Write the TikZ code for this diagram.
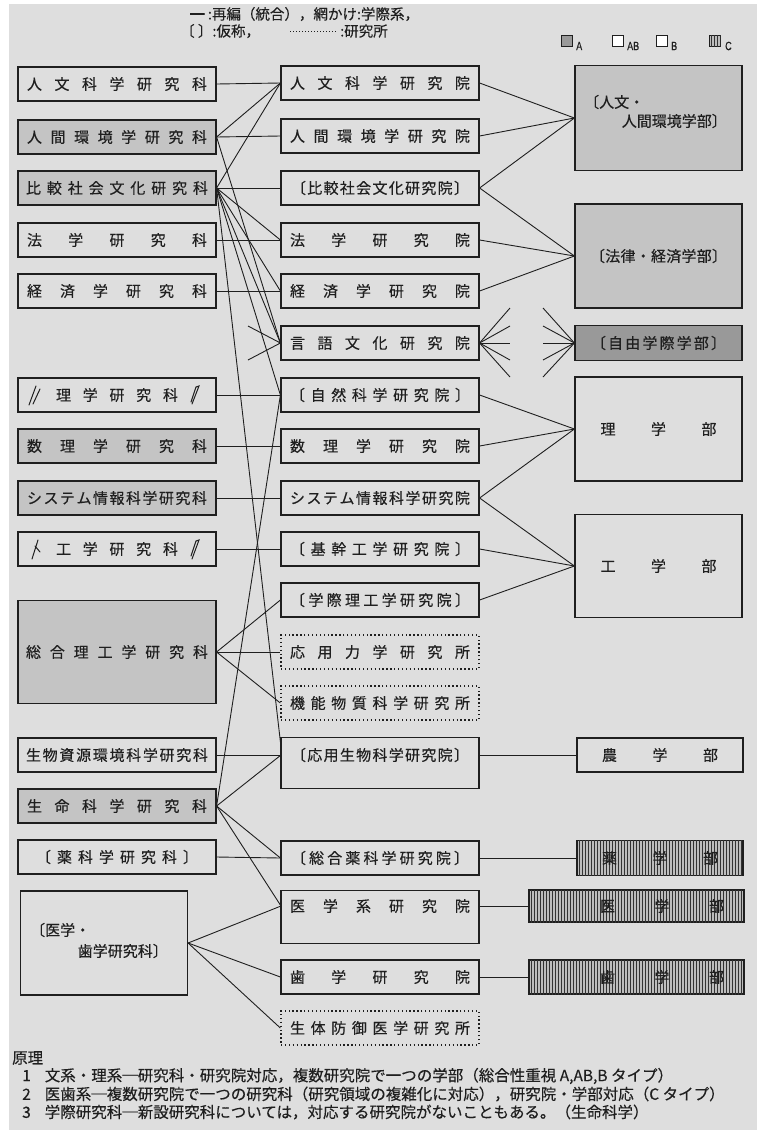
\documentclass[tikz,border=0pt]{standalone}
\usepackage{fontspec}
\setmainfont{Noto Sans CJK JP}[FakeBold=0.35]
\newfontfamily\latf{Liberation Sans}[FakeBold=0.3]
\usetikzlibrary{patterns}
\definecolor{bg}{gray}{0.87}
\definecolor{shd}{gray}{0.77}
\definecolor{drk}{gray}{0.60}
\definecolor{ink}{gray}{0.12}
\ExplSyntaxOn
\NewDocumentCommand\spr{mm}{\makebox[#1][s]{\bool_set_false:N\l_tmpa_bool\tl_map_inline:nn{#2}{\bool_if:NT\l_tmpa_bool{\hfill}##1\bool_set_true:N\l_tmpa_bool}}}
\ExplSyntaxOff
\begin{document}
\begin{tikzpicture}[x=1pt,y=-1pt,
 bx/.style={draw=ink,line width=1.2pt,inner sep=0pt,text=ink,font=\fontsize{15}{15}\selectfont,minimum width=198pt,minimum height=34pt},
 sh/.style={fill=shd},
 dbx/.style={bx,line width=1.3pt,dash pattern=on 1.3pt off 2.6pt},
 hatch/.style={fill=gray!52,postaction={pattern=vertical lines,pattern color=black!80}},
 cn/.style={draw=ink,line width=0.9pt},
 txt/.style={inner sep=0pt,text=ink,font=\fontsize{15}{15}\selectfont},
 lg/.style={inner sep=0pt,text=ink,font=\fontsize{14.5}{14.5}\selectfont},
 bt/.style={inner sep=0pt,text=ink,font=\fontsize{15.5}{15.5}\selectfont},
 sw/.style={draw=ink,line width=0.8pt,minimum width=11pt,minimum height=11pt,inner sep=0pt},
 swl/.style={inner sep=0pt,text=ink,font=\latf\fontsize{12}{12}\selectfont},
 pen/.style={draw=ink,line width=1pt,line cap=round},
]
\useasboundingbox (0,0) rectangle (771,1133);
\fill[white] (0,0) rectangle (771,1133);
\fill[bg] (9,4) rectangle (757,1130);

% legend
\node[lg,anchor=west] (lg1) at (190,14) {━ :再編（統合），網かけ:学際系，};
\node[lg,anchor=west] (lg2) at (180,31) {〔\ 〕:仮称，};
\coordinate (dl1) at (290,31);
\coordinate (dl2) at (336,31);
\draw[ink,line width=1pt,dash pattern=on 1pt off 2pt] (dl1) -- (dl2);
\node[lg,anchor=west] (lg3) at (340,31) {:研究所};
\node[sw,fill=drk] (swA) at (567,41) {};
\node[swl,anchor=west] (swAt) at (576,46) {\scalebox{0.75}[1]{A}};
\node[sw,fill=white] (swAB) at (618,41) {};
\node[swl,anchor=west] (swABt) at (627,46) {\scalebox{0.75}[1]{AB}};
\node[sw,fill=white] (swB) at (662,41) {};
\node[swl,anchor=west] (swBt) at (671,46) {\scalebox{0.75}[1]{B}};
\node[sw,hatch] (swC) at (715,41) {};
\node[swl,anchor=west] (swCt) at (725,46) {\scalebox{0.75}[1]{C}};

% left column
\node[bx] (l1) at (117,84) {\spr{180pt}{人文科学研究科}};
\node[bx,sh] (l2) at (117,137) {\spr{180pt}{人間環境学研究科}};
\node[bx,sh] (l3) at (117,188) {\spr{182pt}{比較社会文化研究科}};
\node[bx] (l4) at (117,240) {\spr{180pt}{法学研究科}};
\node[bx] (l5) at (117,291) {\spr{180pt}{経済学研究科}};
\node[bx] (l6) at (117,395) {\spr{122pt}{理学研究科}};
\node[bx,sh] (l7) at (117,446) {\spr{180pt}{数理学研究科}};
\node[bx,sh] (l8) at (117,498) {\spr{180pt}{システム情報科学研究科}};
\node[bx] (l9) at (117,549) {\spr{122pt}{工学研究科}};
\node[bx,sh,minimum height=103pt] (l10) at (117,652) {\spr{182pt}{総合理工学研究科}};
\node[bx] (l11) at (117,755) {\spr{182pt}{生物資源環境科学研究科}};
\node[bx,sh] (l12) at (117,806) {\spr{180pt}{生命科学研究科}};
\node[bx] (l13) at (117,857) {\spr{162pt}{〔薬科学研究科〕}};
\node[bx,minimum width=167pt,minimum height=104pt] (l14) at (104,943) {};
\node[txt,anchor=west] (l14a) at (30,930) {〔医学・};
\node[txt,anchor=east] (l14b) at (168,951) {歯学研究科〕};

% pen marks
\draw[pen] (29,405) -- (36,386);
\draw[pen] (33,404) -- (40,389);
\draw[pen] (192,404) -- (199,386) -- (196,387) -- (191,402);
\draw[pen] (32,559) -- (38,540);
\draw[pen] (35,546) -- (40,552);
\draw[pen] (192,559) -- (199,540) -- (196,541) -- (191,556);

% middle column
\node[bx] (m1) at (380,83) {\spr{180pt}{人文科学研究院}};
\node[bx] (m2) at (380,136) {\spr{180pt}{人間環境学研究院}};
\node[bx] (m3) at (380,188) {\spr{178pt}{〔比較社会文化研究院〕}};
\node[bx] (m4) at (380,240) {\spr{180pt}{法学研究院}};
\node[bx] (m5) at (380,291) {\spr{180pt}{経済学研究院}};
\node[bx] (m6) at (380,343) {\spr{180pt}{言語文化研究院}};
\node[bx] (m7) at (380,395) {\spr{180pt}{〔自然科学研究院〕}};
\node[bx] (m8) at (380,446) {\spr{180pt}{数理学研究院}};
\node[bx] (m9) at (380,498) {\spr{180pt}{システム情報科学研究院}};
\node[bx] (m10) at (380,549) {\spr{180pt}{〔基幹工学研究院〕}};
\node[bx] (m11) at (380,600) {\spr{180pt}{〔学際理工学研究院〕}};
\node[dbx] (m12) at (380,652) {\spr{180pt}{応用力学研究所}};
\node[dbx] (m13) at (380,703) {\spr{180pt}{機能物質科学研究所}};
\node[bx,minimum height=51pt] (m14) at (380,763) {};
\node[txt] (m14t) at (380,755) {\spr{178pt}{〔応用生物科学研究院〕}};
\node[bx] (m15) at (380,858) {\spr{178pt}{〔総合薬科学研究院〕}};
\node[bx,minimum height=53pt] (m16) at (380,917) {};
\node[txt] (m16t) at (380,906) {\spr{180pt}{医学系研究院}};
\node[bx] (m17) at (380,977) {\spr{180pt}{歯学研究院}};
\node[dbx] (m18) at (380,1028) {\spr{180pt}{生体防御医学研究所}};

% right column
\node[bx,sh,minimum width=167pt,minimum height=105pt] (r1) at (658.5,118) {};
\node[txt,anchor=west] (r1a) at (584,102) {〔人文・};
\node[txt,anchor=east] (r1b) at (727,121) {人間環境学部〕};
\node[bx,sh,minimum width=167pt,minimum height=104pt] (r2) at (658.5,256) {\spr{137pt}{〔法律・経済学部〕}};
\node[bx,fill=drk,minimum width=167pt,minimum height=35pt] (r3) at (658.5,343) {\spr{135pt}{〔自由学際学部〕}};
\node[bx,minimum width=167pt,minimum height=104pt] (r4) at (658.5,429) {\spr{116pt}{理学部}};
\node[bx,minimum width=167pt,minimum height=103pt] (r5) at (658.5,566) {\spr{116pt}{工学部}};
\node[bx,minimum width=166pt] (r6) at (660,755) {\spr{116pt}{農学部}};
\node[bx,hatch,minimum width=166pt,minimum height=35pt] (r7) at (660,858) {\spr{116pt}{薬学部}};
\node[bx,hatch,minimum width=215pt,minimum height=32pt] (r8) at (636.5,906) {\hspace*{51pt}\spr{124pt}{医学部}};
\node[bx,hatch,minimum width=215pt,minimum height=34pt] (r9) at (636.5,977) {\hspace*{51pt}\spr{124pt}{歯学部}};

% named free ends
\coordinate (m14a) at (281,747);
\coordinate (m14b) at (281,755);
\coordinate (m14c) at (479,755);
\coordinate (m16a) at (281,906);
\coordinate (m16c) at (479,906);
\coordinate (s1) at (248,326);
\coordinate (s2) at (248,360);
\foreach \i/\y in {1/308,2/326,3/343,4/360,5/377}{
  \coordinate (f\i) at (510,\y);
  \coordinate (g\i) at (543,\y);
}

% left -> middle
\draw[cn] (l1.east) -- (m1.west);
\draw[cn] (l2.east) -- (m1.west);
\draw[cn] (l2.east) -- (m2.west);
\draw[cn] (l2.east) -- (m6.west);
\draw[cn] (l3.east) -- (m1.west);
\draw[cn] (l3.east) -- (m3.west);
\draw[cn] (l3.east) -- (m4.west);
\draw[cn] (l3.east) -- (m5.west);
\draw[cn] (l3.east) -- (m6.west);
\draw[cn] (l3.east) -- (m7.west);
\draw[cn] (l3.east) -- (m14a);
\draw[cn] (l4.east) -- (m4.west);
\draw[cn] (l5.east) -- (m5.west);
\draw[cn] (s1) -- (m6.west);
\draw[cn] (s2) -- (m6.west);
\draw[cn] (l6.east) -- (m7.west);
\draw[cn] (l7.east) -- (m8.west);
\draw[cn] (l8.east) -- (m9.west);
\draw[cn] (l9.east) -- (m10.west);
\draw[cn] (l10.east) -- (m11.west);
\draw[cn] (l10.east) -- (m12.west);
\draw[cn] (l10.east) -- (m13.west);
\draw[cn] (l11.east) -- (m14b);
\draw[cn] (l12.east) -- (m7.west);
\draw[cn] (l12.east) -- (m14b);
\draw[cn] (l12.east) -- (m15.west);
\draw[cn] (l12.east) -- (m16a);
\draw[cn] (l13.east) -- (m15.west);
\draw[cn] (l14.east) -- (m16a);
\draw[cn] (l14.east) -- (m17.west);
\draw[cn] (l14.east) -- (m18.west);

% middle -> right
\draw[cn] (m1.east) -- (r1.west);
\draw[cn] (m2.east) -- (r1.west);
\draw[cn] (m3.east) -- (r1.west);
\draw[cn] (m3.east) -- (r2.west);
\draw[cn] (m4.east) -- (r2.west);
\draw[cn] (m5.east) -- (r2.west);
\foreach \i in {1,...,5}{
  \draw[cn] (m6.east) -- (f\i);
  \draw[cn] (g\i) -- (r3.west);
}
\draw[cn] (m7.east) -- (r4.west);
\draw[cn] (m8.east) -- (r4.west);
\draw[cn] (m9.east) -- (r4.west);
\draw[cn] (m9.east) -- (r5.west);
\draw[cn] (m10.east) -- (r5.west);
\draw[cn] (m11.east) -- (r5.west);
\draw[cn] (m14c) -- (r6.west);
\draw[cn] (m15.east) -- (r7.west);
\draw[cn] (m16c) -- (r8.west);
\draw[cn] (m17.east) -- (r9.west);

% principles
\node[bt,anchor=west] (p0) at (12,1058) {原理};
\node[bt,anchor=west] (p1) at (22,1076) {1\hspace{14pt}文系・理系─研究科・研究院対応，複数研究院で一つの学部（総合性重視 A,AB,B タイプ）};
\node[bt,anchor=west] (p2) at (22,1094) {2\hspace{14pt}医歯系─複数研究院で一つの研究科（研究領域の複雑化に対応），研究院・学部対応（C タイプ）};
\node[bt,anchor=west] (p3) at (22,1112) {3\hspace{14pt}学際研究科─新設研究科については，対応する研究院がないこともある。（生命科学）};
\end{tikzpicture}
\end{document}
